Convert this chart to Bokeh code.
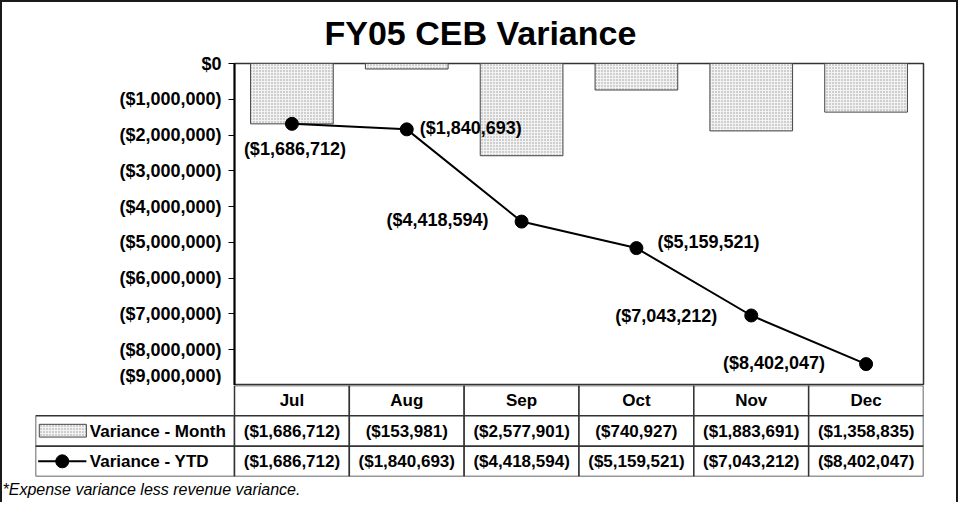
from bokeh.plotting import figure
from bokeh.layouts import column
from bokeh.models import (ColumnDataSource, FactorRange, Range1d, CustomJSTickFormatter,
                          FixedTicker, Title)
from bokeh.core.properties import value
from bokeh.embed import file_html
from bokeh.resources import INLINE

# ---------------- data ----------------
months = ["Jul", "Aug", "Sep", "Oct", "Nov", "Dec"]
variance_month = [-1686712, -153981, -2577901, -740927, -1883691, -1358835]
variance_ytd = [-1686712, -1840693, -4418594, -5159521, -7043212, -8402047]
y_ticks = [0, -1000000, -2000000, -3000000, -4000000, -5000000,
           -6000000, -7000000, -8000000, -9000000]
series_names = ["Variance - Month", "Variance - YTD"]
title_text = "FY05 CEB Variance"
footnote_text = "*Expense variance less revenue variance."

# label placement (styles only)
lab_dx = [3, 13, -33, 21, -34, -41]
lab_dy = [25, -1, -2, -6, 1, -1]
lab_align = ["center", "left", "right", "left", "right", "right"]

FONT = "Liberation Sans"


def money(v):
    s = "${:,.0f}".format(abs(v))
    return "(" + s + ")" if v < 0 else s


W = 958
A_H = 385
B_H = 117

# ---------------- chart ----------------
p = figure(width=W, height=A_H, x_range=FactorRange(*months), y_range=Range1d(-9000000, 0),
           output_backend="svg", toolbar_location=None, x_axis_location=None,
           min_border_left=234, min_border_right=35, min_border_top=63, min_border_bottom=0,
           frame_align=False)
p.border_fill_color = None
p.background_fill_color = "white"
p.outline_line_color = "#333333"
p.outline_line_width = 1.5
p.xgrid.grid_line_color = None
p.ygrid.grid_line_color = None

p.title.text = title_text
p.title.align = "left"
p.title.offset = 90
p.title.vertical_align = "bottom"
p.title.text_font = FONT
p.title.text_font_size = "34px"
p.title.text_font_style = "bold"
p.title.text_color = "black"
p.title.standoff = 23

ya = p.yaxis[0]
ya.ticker = FixedTicker(ticks=y_ticks)
ya.formatter = CustomJSTickFormatter(code="""
  const s = '$' + Math.abs(tick).toLocaleString('en-US');
  return tick < 0 ? '(' + s + ')' : s;
""")
ya.axis_line_width = 2
ya.axis_line_color = "black"
ya.major_tick_out = 6
ya.major_tick_in = 0
ya.major_tick_line_width = 1
ya.major_tick_line_color = "black"
ya.minor_tick_line_color = None
ya.major_label_standoff = 7
ya.major_label_text_font = FONT
ya.major_label_text_font_size = "18px"
ya.major_label_text_font_style = "bold"
ya.major_label_text_color = "black"

src = ColumnDataSource(dict(
    m=months, mv=variance_month, ytd=variance_ytd,
    lab=[money(v) for v in variance_ytd], dx=lab_dx, dy=lab_dy, al=lab_align,
    zero=[0] * len(months)))

p.vbar(x="m", top="zero", bottom="mv", width=0.72, source=src,
       fill_color="#f2f2f2", line_color="#444444", line_width=1,
       hatch_pattern="dot", hatch_color="#9a9a9a", hatch_scale=3, hatch_weight=0.8)
p.line(x="m", y="ytd", source=src, line_color="black", line_width=2)
p.scatter(x="m", y="ytd", source=src, size=13, fill_color="black", line_color="black")
p.text(x="m", y="ytd", text="lab", source=src, x_offset="dx", y_offset="dy",
       text_align="al", text_baseline="middle", text_font=value(FONT),
       text_font_size="18px", text_font_style="bold", text_color="black")

# ---------------- table ----------------
LEG = 1.733
t = figure(width=W, height=B_H, x_range=Range1d(-LEG, len(months)), y_range=Range1d(0, 3),
           output_backend="svg", toolbar_location=None,
           x_axis_location=None, y_axis_location=None,
           min_border_left=35, min_border_right=35, min_border_top=0, min_border_bottom=26,
           frame_align=False)
t.border_fill_color = None
t.background_fill_color = None
t.outline_line_color = None
t.xgrid.grid_line_color = None
t.ygrid.grid_line_color = None

n = len(months)
idx = list(range(n))
# header cells
t.quad(left=idx, right=[i + 1 for i in idx], bottom=[2] * n, top=[3] * n,
       fill_color="white", line_color="#333333", line_width=1.5)
# data cells (rows: 1 = month, 0 = ytd)
t.quad(left=[-LEG] + idx + [-LEG] + idx,
       right=[0] + [i + 1 for i in idx] + [0] + [i + 1 for i in idx],
       bottom=[1] * (n + 1) + [0] * (n + 1),
       top=[2] * (n + 1) + [1] * (n + 1),
       fill_color="white", line_color="#333333", line_width=1.5)

centers = [i + 0.5 for i in idx]
txt = dict(text_align="center", text_baseline="middle", text_font=value(FONT),
           text_font_size="17px", text_font_style="bold", text_color="black")
t.text(x=centers, y=[2.5] * n, text=months, **txt)
t.text(x=centers, y=[1.5] * n, text=[money(v) for v in variance_month], **txt)
t.text(x=centers, y=[0.5] * n, text=[money(v) for v in variance_ytd], **txt)

# legend keys
t.quad(left=[-1.70], right=[-1.29], bottom=[1.30], top=[1.72],
       fill_color="#f2f2f2", line_color="#444444", line_width=1,
       hatch_pattern="dot", hatch_color="#9a9a9a", hatch_scale=3, hatch_weight=0.8)
t.line(x=[-1.71, -1.29], y=[0.5, 0.5], line_color="black", line_width=2)
t.scatter(x=[-1.50], y=[0.5], size=13, fill_color="black", line_color="black")
t.text(x=[-1.26, -1.26], y=[1.5, 0.5], text=series_names,
       text_align="left", text_baseline="middle", text_font=value(FONT),
       text_font_size="17px", text_font_style="bold", text_color="black")

foot = Title(text=footnote_text, align="left", offset=-33, vertical_align="bottom",
             text_font=FONT, text_font_size="16px", text_font_style="italic",
             text_color="black", standoff=4)
t.add_layout(foot, "below")

layout = column(p, t, styles={"box-shadow": "inset 2px 2px 0 0 #1a1a1a, inset -2px 0 0 0 #1a1a1a"})

open("out.html", "w").write(file_html(layout, INLINE))
